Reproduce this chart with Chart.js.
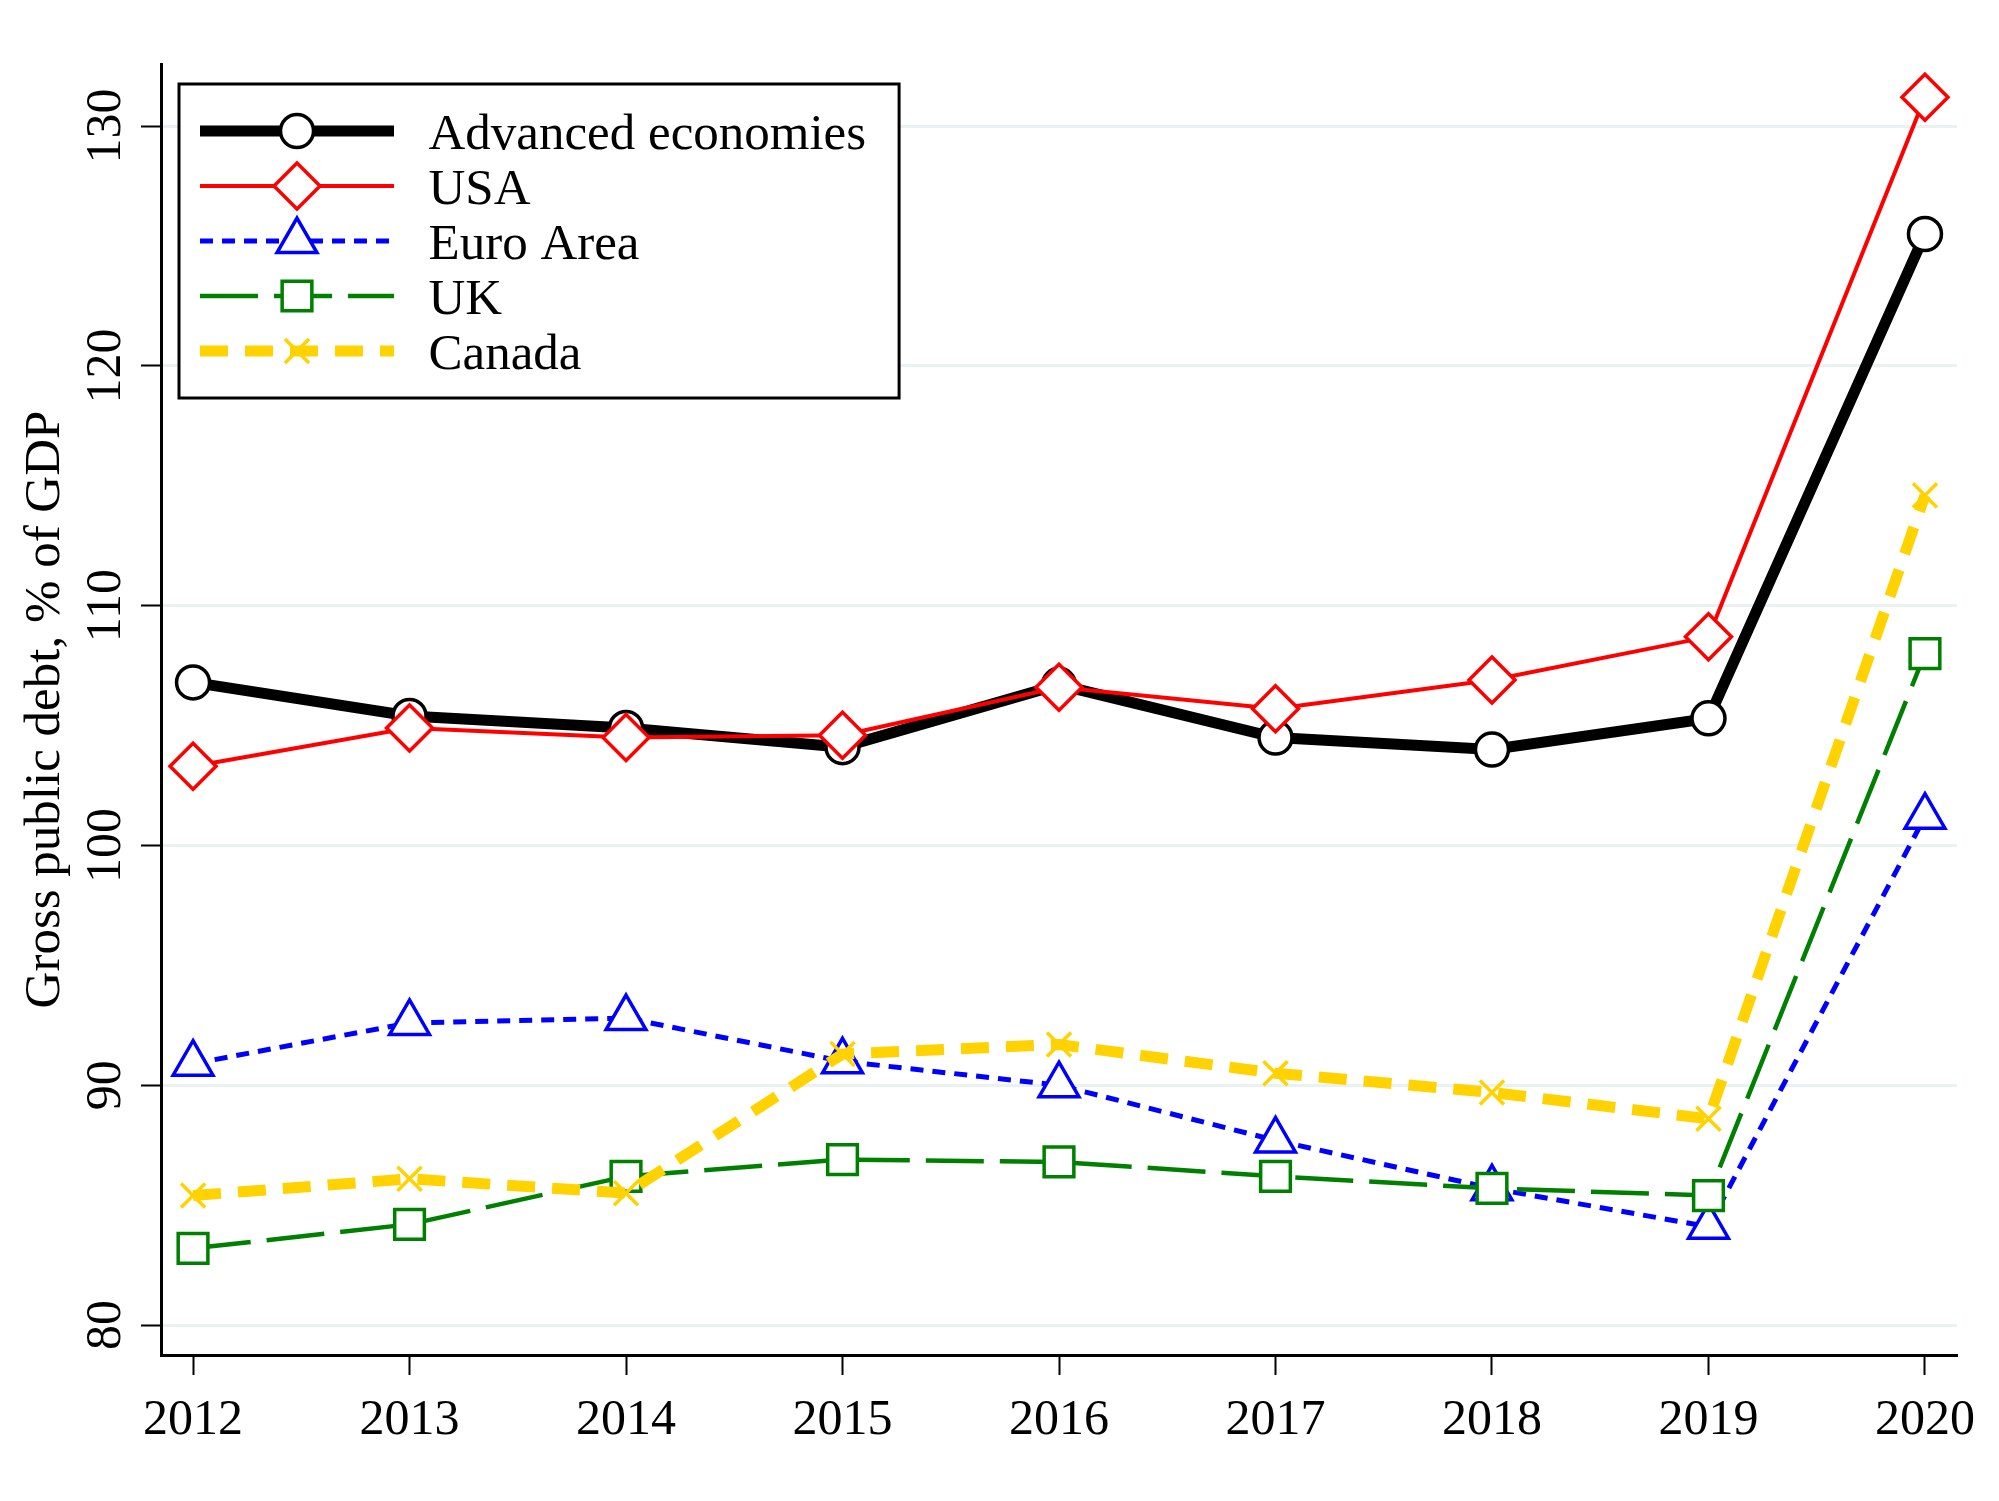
<!DOCTYPE html>
<html>
<head>
<meta charset="utf-8">
<script src="https://cdn.jsdelivr.net/npm/chart.js@4.4.1/dist/chart.umd.min.js"></script>
<style>
  html, body { margin: 0; padding: 0; background: #fff; }
  #chart { display: block; }
</style>
</head>
<body>
<canvas id="chart" width="1999" height="1501"></canvas>
<script>
// values
const years = [2012, 2013, 2014, 2015, 2016, 2017, 2018, 2019, 2020];
const advanced = [106.8, 105.4, 104.9, 104.1, 106.7, 104.5, 104.0, 105.3, 125.5];
const usa = [103.3, 104.9, 104.5, 104.6, 106.6, 105.7, 106.9, 108.7, 131.2];
const euroArea = [90.9, 92.6, 92.8, 91.0, 90.0, 87.7, 85.7, 84.1, 101.2];
const uk = [83.2, 84.2, 86.2, 86.9, 86.8, 86.2, 85.7, 85.4, 108.0];
const canada = [85.4, 86.1, 85.5, 91.3, 91.7, 90.5, 89.7, 88.6, 114.6];
const seriesNames = ['Advanced economies', 'USA', 'Euro Area', 'UK', 'Canada'];
const yTitle = 'Gross public debt, % of GDP';
const yStep = 10;

const FONT = 'Liberation Serif';
const SYM_SHIFT = 5; // symbol sits a little above the text middle

function series(label, data, color, width, dash, style, radius, order) {
    return {
        label, data, order,
        borderColor: color, borderWidth: width, borderDash: dash,
        pointStyle: style, pointRadius: radius, pointHoverRadius: radius,
        pointBorderColor: color, pointBorderWidth: 3.5, pointBackgroundColor: '#fff',
        tension: 0, fill: false
    };
}

const datasets = [
    series(seriesNames[0], advanced, '#000000', 11, [], 'circle', 16.5, 5),
    series(seriesNames[1], usa, '#ff0000', 4, [], 'rectRot', 23, 4),
    series(seriesNames[2], euroArea, '#0000ff', 5, [13, 9], 'triangle', 23, 3),
    series(seriesNames[3], uk, '#008000', 4.5, [58, 16], 'rect', 21, 2),
    series(seriesNames[4], canada, '#ffd200', 11, [28, 17], 'crossRot', 17, 1)
];

// line sample + marker, used as the legend symbol
function legendSymbol(ds) {
    const c = document.createElement('canvas');
    c.width = 238; c.height = 70;
    const ctx = c.getContext('2d');
    const cy = 35 - SYM_SHIFT;
    ctx.strokeStyle = ds.borderColor;
    ctx.lineWidth = ds.borderWidth;
    ctx.setLineDash(ds.borderDash);
    ctx.beginPath(); ctx.moveTo(35, cy); ctx.lineTo(229, cy); ctx.stroke();
    ctx.setLineDash([]);
    ctx.fillStyle = '#fff';
    ctx.strokeStyle = ds.pointBorderColor;
    ctx.lineWidth = ds.pointBorderWidth;
    Chart.helpers.drawPoint(ctx, { pointStyle: ds.pointStyle, radius: ds.pointRadius, rotation: 0, borderWidth: ds.pointBorderWidth }, 132, cy);
    return c;
}
const symbols = datasets.map(legendSymbol);

const legendFrame = {
    id: 'legendFrame',
    afterDatasetsDraw(chart) {
        const lg = chart.legend;
        const boxes = lg.legendHitBoxes;
        if (!boxes || !boxes.length) return;
        const left = Math.min(...boxes.map(b => b.left)) + 14;
        const top = Math.min(...boxes.map(b => b.top)) - 21.5 - SYM_SHIFT;
        const right = Math.max(...boxes.map(b => b.left + b.width)) + 33;
        const bottom = Math.max(...boxes.map(b => b.top + b.height)) + 21.5 - SYM_SHIFT;
        const ctx = chart.ctx;
        ctx.save();
        ctx.fillStyle = '#fff';
        ctx.fillRect(left, top, right - left, bottom - top);
        ctx.strokeStyle = '#000';
        ctx.lineWidth = 3;
        ctx.strokeRect(left, top, right - left, bottom - top);
        ctx.restore();
        lg.draw();
    }
};

new Chart(document.getElementById('chart').getContext('2d'), {
    type: 'line',
    data: { labels: years, datasets: datasets },
    options: {
        responsive: false,
        animation: false,
        devicePixelRatio: 1,
        layout: { padding: { left: 0, top: 64, right: 42, bottom: 0 } },
        plugins: {
            tooltip: { enabled: false },
            legend: {
                position: 'chartArea',
                align: 'start',
                title: { display: true, text: ' ', font: { size: 10, lineHeight: 1.2 }, padding: { top: 89.5 + SYM_SHIFT, bottom: 0 } },
                labels: {
                    usePointStyle: true,
                    pointStyleWidth: 238,
                    padding: 4,
                    color: '#000',
                    font: { family: FONT, size: 51 },
                    generateLabels: (chart) => chart.data.datasets.map((ds, i) => ({
                        text: ds.label, pointStyle: symbols[i], datasetIndex: i,
                        fillStyle: '#fff', strokeStyle: ds.borderColor, lineWidth: 0,
                        hidden: false, fontColor: '#000'
                    }))
                }
            }
        },
        scales: {
            x: {
                type: 'linear',
                min: 2011.852,
                max: 2020.148,
                afterFit: (s) => { s.height = 146; },
                border: { display: true, color: '#000', width: 3 },
                grid: { drawOnChartArea: false, drawTicks: true, tickLength: 20, tickColor: '#000', tickWidth: 2 },
                ticks: {
                    stepSize: 1, includeBounds: false, autoSkip: false, maxRotation: 0,
                    padding: 16, color: '#000', font: { family: FONT, size: 50 },
                    callback: (v) => String(v)
                }
            },
            y: {
                min: 78.75,
                max: 132.59,
                afterFit: (s) => { s.width = 161; },
                border: { display: true, color: '#000', width: 3 },
                grid: { color: '#e9f1f2', lineWidth: 3, drawTicks: true, tickLength: 20, tickColor: '#000', tickWidth: 2 },
                ticks: {
                    stepSize: yStep, includeBounds: false, minRotation: 90, maxRotation: 90,
                    crossAlign: 'center', padding: -3, color: '#000', font: { family: FONT, size: 50 }
                },
                title: { display: true, text: yTitle, color: '#000', font: { family: FONT, size: 51 }, padding: { top: 15, bottom: 0 } }
            }
        }
    },
    plugins: [legendFrame]
});
</script>
</body>
</html>
